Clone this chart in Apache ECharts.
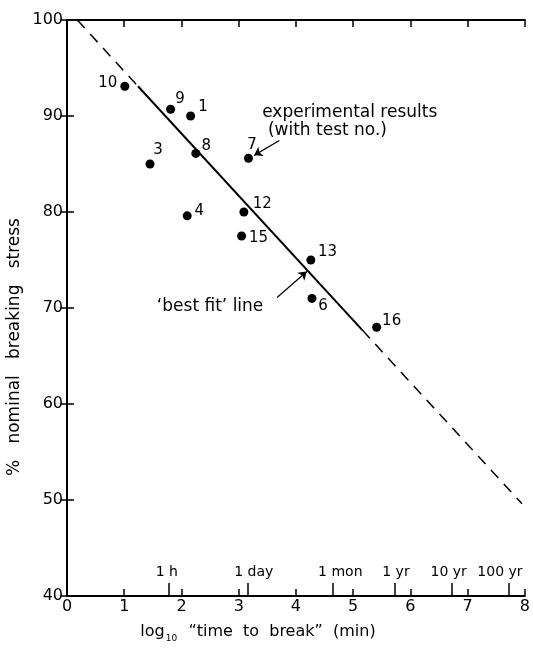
<!DOCTYPE html>
<html><head><meta charset="utf-8">
<script src="https://cdn.jsdelivr.net/npm/echarts@6/dist/echarts.min.js"></script>
<style>html,body{margin:0;padding:0;background:#fff}#c{width:533px;height:649px}</style>
</head><body><div id="c"></div><script>
// ---- data ----
const testNo   = [10, 9, 1, 3, 8, 7, 12, 4, 15, 13, 6, 16];
const logTime  = [1.01, 1.81, 2.16, 1.45, 2.25, 3.17, 3.09, 2.10, 3.05, 4.26, 4.28, 5.41];
const stressPct= [93.1, 90.7, 90.0, 85.0, 86.1, 85.6, 80.0, 79.6, 77.5, 75.0, 71.0, 68.0];

// 'best fit' line, read as segments (dashed extrapolation / solid fit / dashed extrapolation)
const fitUpperX = [0.18, 1.24],  fitUpperY = [100, 93.1];
const fitSolidX = [1.24, 5.16],  fitSolidY = [93.1, 67.7];
const fitLowerX = [5.16, 7.95],  fitLowerY = [67.7, 49.6];

// axis ticks
const xTickMin = 0, xTickMax = 8, xTickStep = 1;
const yTickMin = 40, yTickMax = 100, yTickStep = 10;

// time markers on the bottom axis
const timeMarkerLabels  = ['1 h', '1 day', '1 mon', '1 yr', '10 yr', '100 yr'];
const timeMarkerMinutes = [60, 1440, 43200, 525600, 5256000, 52560000];

// texts
const yTitle = '%   nominal   breaking   stress';
const annExp1 = 'experimental results';
const annExp2 = '(with test no.)';
const annFit  = '\u2018best fit\u2019 line';

// annotation anchors (data coordinates)
const arrowExpFrom = [3.71, 87.45], arrowExpTo = [3.27, 85.9];
const arrowFitFrom = [3.67, 71.1],  arrowFitTo = [4.19, 73.8];
const annExp1At = [3.41, 90.33], annExp2At = [3.51, 88.5], annFitAt = [1.57, 70.2];

// ---- styling ----
const FONT = 'DejaVu Sans';
const INK = '#000';
const labelNudge = {10:[-17,-3.5], 9:[9.5,-10], 1:[12.5,-9], 3:[8,-14], 8:[10.5,-7.7], 7:[3.6,-13],
  12:[18.5,-8], 4:[12,-5], 15:[17,2], 13:[16.7,-7.4], 6:[11,7.7], 16:[15,-6.3]};
const timeLabelShift = [-2, 6, 8, 1.5, -3, -9];

const timeVals = timeMarkerMinutes.map(m => Math.log10(m));
const rich = {};
timeLabelShift.forEach((d, i) => {
  rich['s' + i] = {fontFamily: FONT, fontSize: 14, color: INK,
    padding: d > 0 ? [0, 0, 0, 2 * d] : [0, -2 * d, 0, 0]};
});

const pts = testNo.map((n, i) => ({
  value: [logTime[i], stressPct[i], n],
  label: {offset: labelNudge[n] || [10, -6]}
}));

const seg = (xs, ys) => xs.map((x, i) => [x, ys[i]]);

const chart = echarts.init(document.getElementById('c'), null, {renderer: 'canvas'});
const axisLine = {show: true, lineStyle: {color: INK, width: 2}};
const tick = {show: true, inside: true, length: 7, lineStyle: {color: INK, width: 1.5}};

chart.setOption({
  animation: false,
  backgroundColor: '#fff',
  grid: {left: 67, right: 8, top: 20, bottom: 53, containLabel: false},
  xAxis: [
    {type: 'value', min: xTickMin, max: xTickMax, interval: xTickStep, position: 'bottom',
     axisLine, axisTick: tick, splitLine: {show: false},
     axisLabel: {margin: 3, fontFamily: FONT, fontSize: 16, color: INK}},
    {type: 'value', min: xTickMin, max: xTickMax, position: 'bottom', offset: 0,
     axisLine: {show: false}, splitLine: {show: false},
     axisTick: {show: true, inside: true, length: 13, customValues: timeVals,
                lineStyle: {color: INK, width: 1.5}},
     axisLabel: {show: true, inside: true, margin: 17, customValues: timeVals,
       fontFamily: FONT, fontSize: 14, color: INK, rich,
       formatter: v => {
         const i = timeVals.findIndex(t => Math.abs(t - v) < 1e-6);
         return i < 0 ? '' : '{s' + i + '|' + timeMarkerLabels[i] + '}';
       }}},
    {type: 'value', min: xTickMin, max: xTickMax, interval: xTickStep, position: 'top',
     axisLine, axisTick: tick, axisLabel: {show: false}, splitLine: {show: false}}
  ],
  yAxis: [
    {type: 'value', min: yTickMin, max: yTickMax, interval: yTickStep, position: 'left',
     axisLine, axisTick: tick, splitLine: {show: false},
     axisLabel: {margin: 4, fontFamily: FONT, fontSize: 16, color: INK}},
    {type: 'value', min: yTickMin, max: yTickMax, interval: yTickStep, position: 'right',
     axisLine, axisTick: tick, axisLabel: {show: false}, splitLine: {show: false}}
  ],
  series: [
    {type: 'line', name: 'fitUpper', data: seg(fitUpperX, fitUpperY), symbol: 'none',
     lineStyle: {color: INK, width: 1.5, type: [11, 8]}},
    {type: 'line', name: 'fitSolid', data: seg(fitSolidX, fitSolidY), symbol: 'none',
     lineStyle: {color: INK, width: 2},
     markLine: {silent: true, animation: false, symbol: ['none', 'arrow'], symbolSize: 8,
       label: {show: false}, lineStyle: {color: INK, width: 1.2, type: 'solid'},
       data: [[{coord: arrowExpFrom}, {coord: arrowExpTo}],
              [{coord: arrowFitFrom}, {coord: arrowFitTo}]]}},
    {type: 'line', name: 'fitLower', data: seg(fitLowerX, fitLowerY), symbol: 'none',
     lineStyle: {color: INK, width: 1.5, type: [11, 8]}},
    {type: 'scatter', name: 'tests', data: pts, symbol: 'circle', symbolSize: 9,
     itemStyle: {color: INK, opacity: 1},
     label: {show: true, position: 'inside', color: INK, fontFamily: FONT, fontSize: 15,
             formatter: p => String(p.value[2])}}
  ]
});

const px = c => chart.convertToPixel({gridIndex: 0}, c);
const a1 = px(annExp1At), a2 = px(annExp2At), a3 = px(annFitAt);
const txt = (p, s, extra) => Object.assign({type: 'text', x: p[0], y: p[1],
  style: Object.assign({text: s, fontFamily: FONT, fontSize: 17, fill: INK,
    textAlign: 'left', textVerticalAlign: 'middle'}, extra || {})});
chart.setOption({
  graphic: [
    txt(a1, annExp1),
    txt(a2, annExp2),
    txt(a3, annFit),
    {type: 'text', x: 15, y: 347, rotation: Math.PI / 2,
     style: {text: yTitle, fontFamily: FONT, fontSize: 17, fill: INK,
             textAlign: 'center', textVerticalAlign: 'middle'}},
    {type: 'text', x: 258, y: 632,
     style: {text: 'log{sub|10}  \u201ctime  to  break\u201d  (min)', fontFamily: FONT, fontSize: 16,
             fill: INK, textAlign: 'center', textVerticalAlign: 'middle',
             rich: {sub: {fontFamily: FONT, fontSize: 9, fill: INK, padding: [14, 1, 0, 1]}}}}
  ]
});
</script></body></html>
